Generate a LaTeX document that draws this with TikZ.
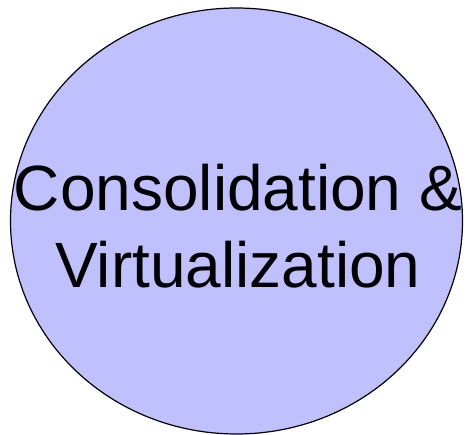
\documentclass[tikz,border=0pt]{standalone}
\usepackage{fontspec}
\setmainfont{Liberation Sans}
\usepackage{tikz}
\usetikzlibrary{shapes.geometric}
\definecolor{lavender}{RGB}{192,192,255}

\begin{document}
\begin{tikzpicture}[x=1pt,y=-1pt]
\useasboundingbox (0,0) rectangle (465,435);
\node[shape=ellipse,draw=black,fill=lavender,line width=1.2pt,minimum width=452pt,minimum height=426pt,inner sep=0pt] (CV) at (236.5,221) {};
\node[align=center,font=\fontsize{64}{77}\selectfont,inner sep=0pt] (L) at (238,226) {Consolidation \&\\Virtualization};
\end{tikzpicture}
\end{document}
